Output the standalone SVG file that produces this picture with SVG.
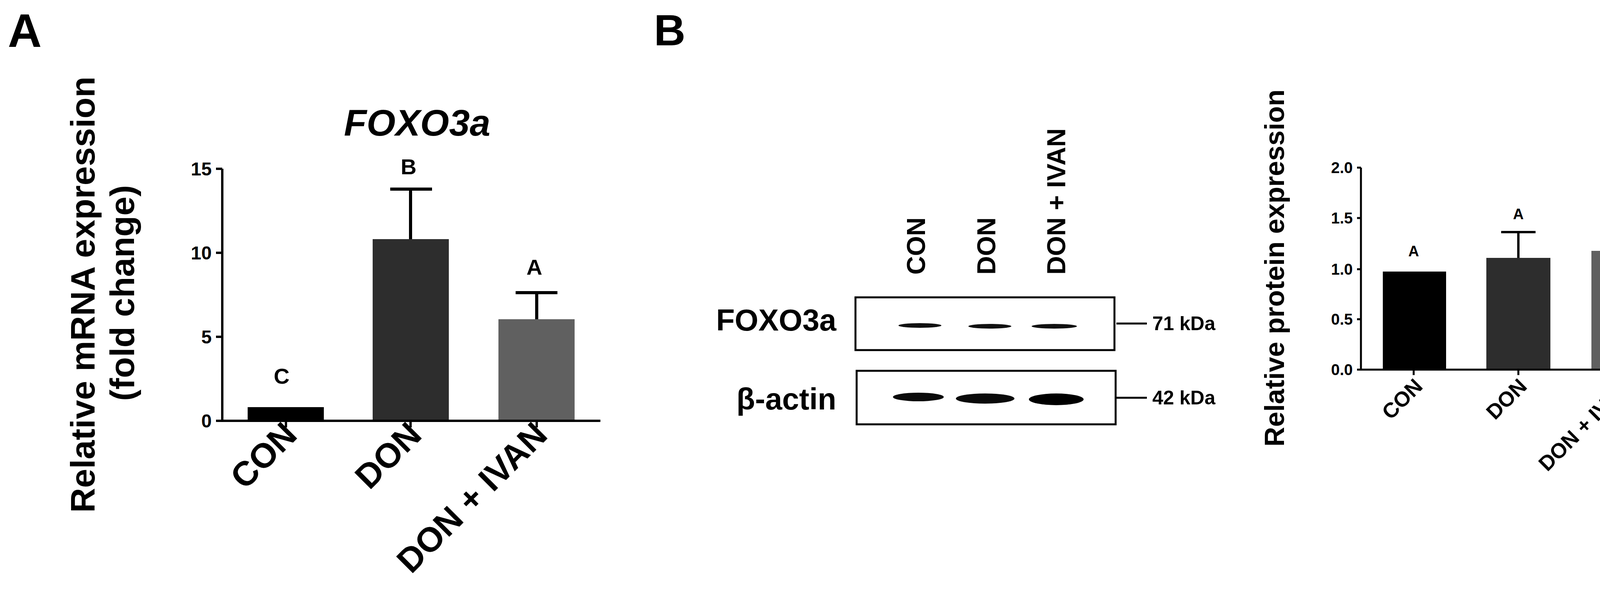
<svg xmlns="http://www.w3.org/2000/svg" width="4310" height="1510" viewBox="0 0 4310 1510">
<style>
text{font-family:"Liberation Sans",Arial,sans-serif;font-weight:bold;fill:#000}
.ax{stroke:#000;stroke-width:6;fill:none}
.axc{stroke:#000;stroke-width:5;fill:none}
.eb{stroke:#000;stroke-width:8;fill:none}
.ebc{stroke:#000;stroke-width:6;fill:none}
.box{stroke:#000;stroke-width:5;fill:#fff}
.b0{fill:#000}.b1{fill:#2d2d2d}.b2{fill:#606060}
</style>
<rect width="4310" height="1510" fill="#fff"/>
<text x="20" y="120" font-size="120">A</text>
<text x="1674" y="116" font-size="112">B</text>

<g id="panelA">
<text x="1068" y="347" font-size="95" font-style="italic" text-anchor="middle">FOXO3a</text>
<text transform="translate(242,754) rotate(-90)" font-size="88" text-anchor="middle">Relative mRNA expression</text>
<text transform="translate(343,750) rotate(-90)" font-size="88" text-anchor="middle">(fold change)</text>
<g id="barsA">
<rect class="b0" x="634" y="1042" width="195" height="35"/>
<rect class="b1" x="954" y="612" width="195" height="465"/>
<rect class="b2" x="1276" y="817" width="195" height="260"/>
</g>
<g id="errA">
<path class="eb" d="M1051 612V484M999 484H1106M1374 817V749M1320 749H1427"/>
</g>
<path class="ax" d="M569 432V1077M553 1077H1537M553 432H569M553 647H569M553 862H569M732 1077V1094M1051 1077V1094M1374 1077V1094"/>
<g font-size="48" text-anchor="end">
<text x="542" y="449">15</text><text x="542" y="664">10</text><text x="542" y="879">5</text><text x="542" y="1094">0</text>
</g>
<g font-size="56" text-anchor="middle">
<text x="721" y="982">C</text><text x="1046" y="446">B</text><text x="1368" y="703">A</text>
</g>
<g font-size="88" text-anchor="end">
<text transform="translate(765,1118) rotate(-45)">CON</text>
<text transform="translate(1084,1118) rotate(-45)">DON</text>
<text transform="translate(1406,1118) rotate(-45)">DON + IVAN</text>
</g>
</g>

<g id="panelB">
<g font-size="66">
<text transform="translate(2368,703) rotate(-90)">CON</text>
<text transform="translate(2548,703) rotate(-90)">DON</text>
<text transform="translate(2727,703) rotate(-90)">DON + IVAN</text>
</g>
<g id="blotFOXO">
<rect class="box" x="2190" y="761" width="663" height="135"/>
<ellipse cx="2355" cy="833" rx="55" ry="6" fill="#111"/>
<ellipse cx="2534" cy="835" rx="55" ry="6" fill="#111"/>
<ellipse cx="2699" cy="835" rx="58" ry="6" fill="#111"/>
</g>
<g id="blotActin">
<rect class="box" x="2193" y="949" width="663" height="137"/>
<ellipse cx="2351" cy="1016" rx="65" ry="11" fill="#0a0a0a"/>
<ellipse cx="2522" cy="1020" rx="75" ry="13" fill="#0a0a0a"/>
<ellipse cx="2704" cy="1022" rx="70" ry="15" fill="#000"/>
</g>
<text x="2141" y="846" font-size="78" text-anchor="end">FOXO3a</text>
<text x="2141" y="1048" font-size="78" text-anchor="end">β-actin</text>
<path class="axc" d="M2858 828H2936M2858 1018H2936"/>
<text x="2950" y="845" font-size="50">71 kDa</text>
<text x="2950" y="1035" font-size="50">42 kDa</text>
</g>

<g id="panelC">
<text transform="translate(3287,686) rotate(-90)" font-size="70" text-anchor="middle">Relative protein expression</text>
<g id="barsC">
<rect class="b0" x="3540" y="695" width="162" height="251"/>
<rect class="b1" x="3805" y="660" width="164" height="286"/>
<rect class="b2" x="4074" y="642" width="161" height="304"/>
</g>
<path class="ebc" d="M3887 660V594M3843 594H3931M4154 642V546M4110 546H4198"/>
<path class="axc" d="M3484 429V946M3474 946H4289M3474 429H3484M3474 558H3484M3474 689H3484M3474 817H3484M3619 946V960M3887 946V960M4154 946V960"/>
<g font-size="40" text-anchor="end">
<text x="3463" y="443">2.0</text><text x="3463" y="572">1.5</text><text x="3463" y="703">1.0</text><text x="3463" y="831">0.5</text><text x="3463" y="960">0.0</text>
</g>
<g font-size="38" text-anchor="middle">
<text x="3619" y="656">A</text><text x="3887" y="561">A</text><text x="4154" y="511">A</text>
</g>
<g font-size="54" text-anchor="end">
<text transform="translate(3645,992) rotate(-45)">CON</text>
<text transform="translate(3912,992) rotate(-45)">DON</text>
<text transform="translate(4178,992) rotate(-45)">DON + IVAN</text>
</g>
</g>
</svg>
